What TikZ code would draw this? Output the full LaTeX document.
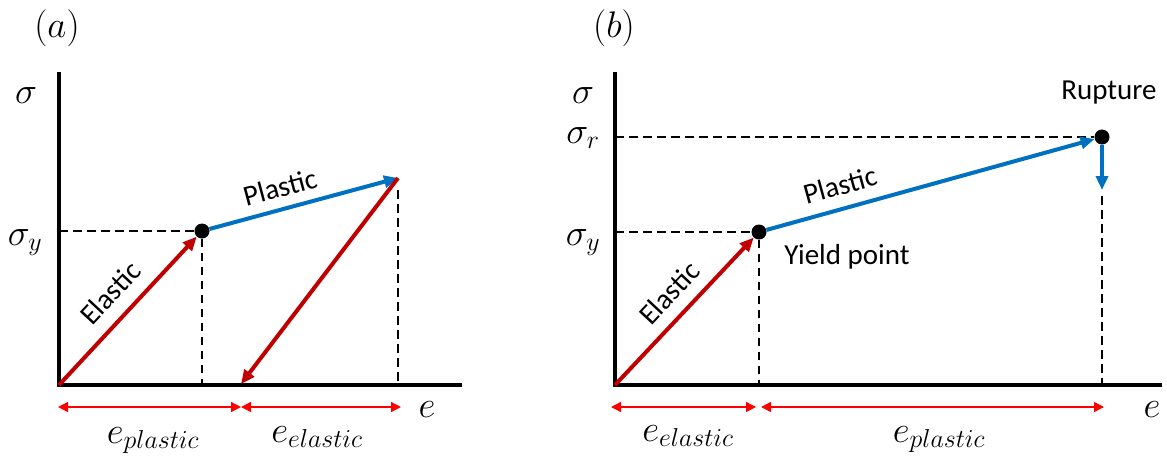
\RequirePackage{fix-cm}
\documentclass[tikz,border=0pt]{standalone}
\usepackage{fontspec}
\newfontfamily\calibrilike{Carlito}
\usetikzlibrary{arrows.meta}
\definecolor{myred}{RGB}{192,0,0}
\definecolor{myblue}{RGB}{0,112,192}
\definecolor{dimred}{RGB}{255,0,0}
\newcommand\mylblfont{\calibrilike\fontsize{29}{34}\selectfont}
\newcommand\mymathfont{\fontsize{37}{42}\selectfont}
\newcommand\mytagfont{\fontsize{37}{42}\selectfont}
\begin{document}
\begin{tikzpicture}[x=1pt,y=-1pt,
  axis/.style={line width=4.6pt},
  guide/.style={line width=2.8pt, dash pattern=on 8.5pt off 5.5pt},
  elarrow/.style={line width=4pt, draw=myred, -{Triangle[length=14pt,width=12pt]}},
  plarrow/.style={line width=4pt, draw=myblue, -{Triangle[length=14pt,width=12pt]}},
  dimarrow/.style={line width=1.4pt, draw=dimred, {Triangle[length=10pt,width=10pt]}-{Triangle[length=10pt,width=10pt]}},
  dotnode/.style={circle, fill=black, inner sep=0pt, minimum size=15pt},
  lbl/.style={font=\mylblfont, inner sep=0pt},
  mlbl/.style={font=\mymathfont, inner sep=0pt},
  tag/.style={font=\mytagfont, inner sep=0pt}]
\useasboundingbox (0,0) rectangle (1167,459);

% ---------------- panel (a) ----------------
\coordinate (oa) at (59,385);
\coordinate (ayt) at (59,72);
\coordinate (axe) at (462,385);
\node[dotnode] (ya) at (202,231) {};
\coordinate (pa) at (398,178);
\coordinate (ua) at (241,384);
\coordinate (ysa) at (59,231);
\coordinate (ybase) at (202,385);
\coordinate (ptop) at (398,190);
\coordinate (pbase) at (398,385);

\draw[guide] (ysa) -- (ya);
\draw[guide] (ya) -- (ybase);
\draw[guide] (ptop) -- (pbase);
\draw[axis] (ayt) -- (oa) -- (axe);
\draw[elarrow] (oa) -- (ya);
\draw[plarrow] (ya) -- (pa);
\draw[elarrow] (pa) -- (ua);

\coordinate (da1) at (58,407);
\coordinate (da2) at (241,407);
\coordinate (da3) at (401,407);
\draw[dimarrow] (da1) -- (da2);
\draw[dimarrow] (da2) -- (da3);

\node[tag] (taga) at (57,28) {$(a)$};
\node[mlbl, anchor=base] (siga) at (26,103) {$\sigma$};
\node[mlbl, anchor=base] (sigya) at (25,245) {$\sigma_y$};
\node[mlbl, anchor=base] (ea) at (427,417) {$e$};
\node[mlbl, anchor=base] (epa) at (153,443) {$e_{plastic}$};
\node[mlbl, anchor=base] (eea) at (317,442) {$e_{elastic}$};
\node[lbl, rotate=47] (ela) at (110,293) {Elastic};
\node[lbl, rotate=15] (pla) at (280,187) {Plastic};

% ---------------- panel (b) ----------------
\coordinate (ob) at (615,385);
\coordinate (byt) at (615,72);
\coordinate (bxe) at (1162,385);
\node[dotnode] (yb) at (759,232) {};
\node[dotnode] (rb) at (1102,137) {};
\coordinate (rdown) at (1102,190);
\coordinate (ysb) at (615,232);
\coordinate (ybaseb) at (759,385);
\coordinate (rsb) at (615,137);
\coordinate (rtop) at (1102,196);
\coordinate (rbase) at (1102,385);

\draw[guide] (ysb) -- (yb);
\draw[guide] (yb) -- (ybaseb);
\draw[guide] (rsb) -- (rb);
\draw[guide] (rtop) -- (rbase);
\draw[axis] (byt) -- (ob) -- (bxe);
\draw[elarrow] (ob) -- (yb);
\draw[plarrow] (yb) -- (rb);
\draw[plarrow] (rb) -- (rdown);

\coordinate (db1) at (611,407);
\coordinate (db2) at (756,407);
\coordinate (db3) at (761,407);
\coordinate (db4) at (1104,407);
\draw[dimarrow] (db1) -- (db2);
\draw[dimarrow] (db3) -- (db4);

\node[tag] (tagb) at (614,28) {$(b)$};
\node[mlbl, anchor=base] (sigb) at (583,103) {$\sigma$};
\node[mlbl, anchor=base] (sigrb) at (583,143) {$\sigma_r$};
\node[mlbl, anchor=base] (sigyb) at (583,245) {$\sigma_y$};
\node[mlbl, anchor=base] (eb) at (1152,417) {$e$};
\node[mlbl, anchor=base] (eeb) at (688,441) {$e_{elastic}$};
\node[mlbl, anchor=base] (epb) at (939,442) {$e_{plastic}$};
\node[lbl] (rupt) at (1109,93) {Rupture};
\node[lbl] (yld) at (847,257) {Yield point};
\node[lbl, rotate=47] (elb) at (669,293) {Elastic};
\node[lbl, rotate=15.4] (plb) at (840,185) {Plastic};
\end{tikzpicture}
\end{document}
